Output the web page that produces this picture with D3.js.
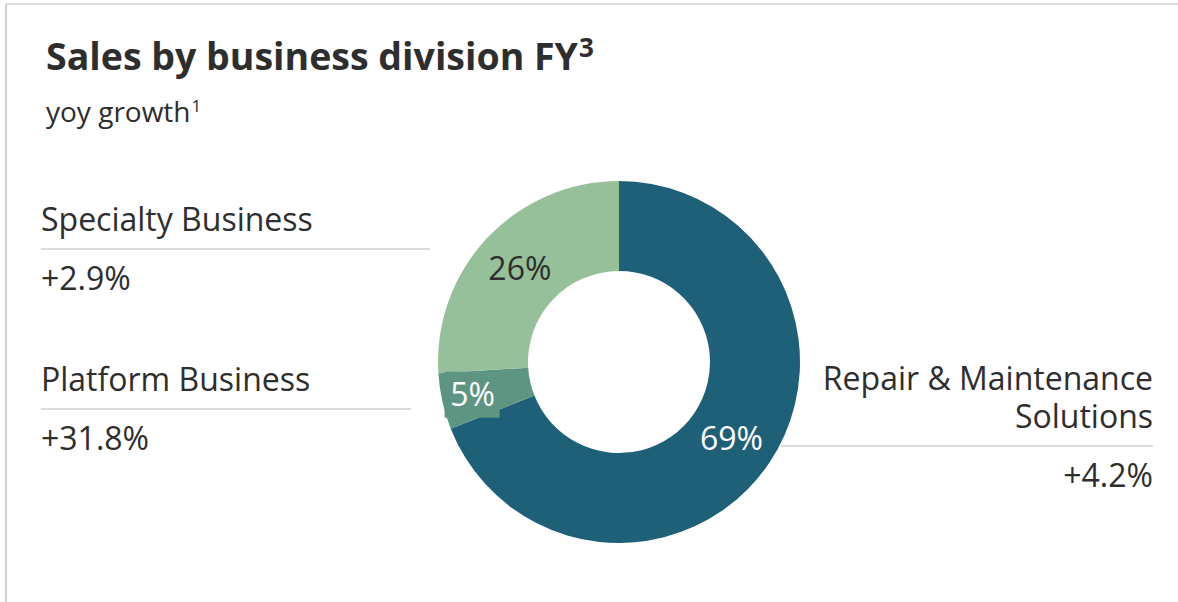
<!DOCTYPE html>
<html>
<head>
<meta charset="utf-8">
<script src="https://cdn.jsdelivr.net/npm/d3@7"></script>
<style>
  html, body { margin: 0; padding: 0; background: #fff; }
  svg text { font-family: "Open Sans", "Noto Sans", sans-serif; fill: #2e2e2e; }
</style>
</head>
<body>
<svg id="chart" width="1178" height="602"></svg>
<script>
// Division shares of sales (%) and year-over-year growth
const divisions = ["Repair & Maintenance Solutions", "Platform Business", "Specialty Business"];
const shares = [69, 5, 26];
const growth = ["+4.2%", "+31.8%", "+2.9%"];
const colors = ["#1f6079", "#5e9482", "#96c09a"];
const labelColors = ["#ffffff", "#ffffff", "#2e2e2e"];

const svg = d3.select("#chart");

// card frame (top and left edges)
svg.append("line").attr("x1", 6).attr("x2", 1178).attr("y1", 4).attr("y2", 4)
  .attr("stroke", "#d0d0d0").attr("stroke-width", 1.5);
svg.append("line").attr("x1", 6).attr("x2", 6).attr("y1", 4).attr("y2", 602)
  .attr("stroke", "#d0d0d0").attr("stroke-width", 2);

// title
const title = svg.append("text").attr("x", 46).attr("y", 70)
  .style("font-size", "37.5px").style("font-weight", 700);
title.append("tspan").text("Sales by business division FY");
title.append("tspan").text("3").style("font-size", "26px").style("font-weight", 700)
  .attr("dx", 1).attr("dy", -13);

const sub = svg.append("text").attr("x", 46).attr("y", 122).style("font-size", "28px");
sub.append("tspan").text("yoy growth");
sub.append("tspan").text("1").style("font-size", "17px").attr("dx", 1).attr("dy", -10);

// donut
const cx = 619, cy = 362, outerR = 181, innerR = 91;
const pie = d3.pie().sort(null).value(d => d)(shares);
const arc = d3.arc().innerRadius(innerR).outerRadius(outerR);
// narrow slices carry their label further out
const outerLabelArc = d3.arc().innerRadius(150).outerRadius(150);
const g = svg.append("g").attr("transform", `translate(${cx},${cy})`);

g.selectAll("path.slice").data(pie).join("path")
  .attr("class", "slice")
  .attr("d", arc)
  .attr("fill", (d, i) => colors[i]);

const labels = g.selectAll("g.pct").data(pie).join("g")
  .attr("class", "pct")
  .attr("transform", d => `translate(${(d.data < 10 ? outerLabelArc : arc).centroid(d)})`);

// small slices get a backing box so the label stays legible
labels.filter(d => d.data < 10).append("rect")
  .attr("x", -28).attr("y", -23).attr("width", 55).attr("height", 46)
  .attr("fill", (d) => colors[d.index]);

labels.append("text")
  .attr("text-anchor", "middle")
  .attr("dy", "0.36em")
  .style("font-size", "32px")
  .style("fill", d => labelColors[d.index])
  .text(d => d.data + "%");

// side legends: name (one text per line), rule, growth
function legend(name, value, x, y, ruleX0, ruleX1, anchor) {
  const lines = Array.isArray(name) ? name : [name];
  lines.forEach((l, k) => svg.append("text").attr("x", x).attr("y", y + k * 38)
    .attr("text-anchor", anchor).style("font-size", "32px").text(l));
  const ruleY = y + 18 + (lines.length - 1) * 38;
  svg.append("line").attr("x1", ruleX0).attr("x2", ruleX1).attr("y1", ruleY).attr("y2", ruleY)
    .attr("stroke", "#cfcfcf").attr("stroke-width", 1.5);
  svg.append("text").attr("x", x).attr("y", ruleY + 41)
    .attr("text-anchor", anchor).style("font-size", "32px").text(value);
}

legend(divisions[2], growth[2], 41, 231, 41, 430, "start");
legend(divisions[1], growth[1], 41, 391, 41, 411, "start");
legend(["Repair & Maintenance", "Solutions"], growth[0], 1153, 390, 781, 1153, "end");
</script>
</body>
</html>
